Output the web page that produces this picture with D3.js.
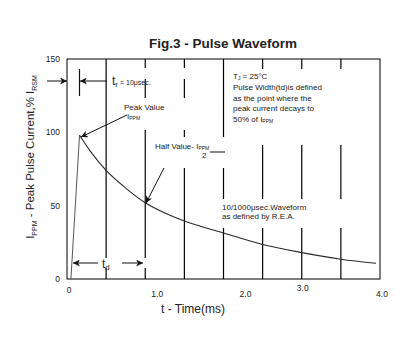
<!DOCTYPE html>
<html>
<head>
<meta charset="utf-8">
<script src="https://cdn.jsdelivr.net/npm/d3@7"></script>
<style>
  body { margin: 0; background: #fff; }
  text { font-family: "Liberation Sans", Arial, sans-serif; fill: #222; }
</style>
</head>
<body>
<svg></svg>
<script>
const w = 408
const h = 354

// pulse waveform (t in ms, % of peak)
const riseTime = [0.05, 0.16]
const riseValue = [0, 98]
const decayTime = [0.16, 0.3, 0.5, 0.75, 1.0, 1.25, 1.5, 2.0, 2.5, 3.0, 3.5, 3.95]
const decayValue = [98, 87, 74, 62, 52, 45, 39.5, 31.4, 23.5, 18, 13.5, 10.7]

const gridTimes = [0.5, 1.0, 1.5, 2.0, 2.5, 3.0, 3.5]
const xTicks = [0, 1, 2, 3, 4]
const xTickLabels = ['0', '1.0', '2.0', '3.0', '4.0']
const yTicks = [0, 50, 100, 150]

const svg = d3.select('svg')
  .attr('width', w)
  .attr('height', h);

const margin = {top: 59, right: 28, bottom: 75, left: 67};
const innerWidth = w - margin.left - margin.right;
const innerHeight = h - margin.top - margin.bottom;

const x = d3.scaleLinear().domain([0, 4]).range([margin.left, margin.left + innerWidth]);
const y = d3.scaleLinear().domain([0, 150]).range([margin.top + innerHeight, margin.top]);

// arrowhead
svg.append('defs').append('marker')
  .attr('id', 'arr')
  .attr('viewBox', '0 0 10 10')
  .attr('refX', 10).attr('refY', 5)
  .attr('markerWidth', 8).attr('markerHeight', 7)
  .attr('markerUnits', 'userSpaceOnUse')
  .attr('orient', 'auto')
  .append('path').attr('d', 'M0,0 L10,5 L0,10 L3,5 Z').attr('fill', '#111');

// title
svg.append('text')
  .attr('x', 223).attr('y', 48)
  .attr('text-anchor', 'middle')
  .attr('font-size', 13.5).attr('font-weight', 'bold')
  .attr('fill', '#000')
  .text('Fig.3  - Pulse Waveform');

// vertical grid lines
svg.append('g').selectAll('line').data(gridTimes)
  .enter().append('line')
  .attr('x1', d => x(d)).attr('x2', d => x(d))
  .attr('y1', y(150)).attr('y2', y(0))
  .attr('stroke', '#000').attr('stroke-width', 1.2);

// white boxes where the grid lines break for the notes
const gaps = [
  [110, 68, 85, 11], [120, 98, 75, 32], [150, 137, 80, 31],
  [228, 69, 142, 76], [218, 199, 152, 29], [98, 258, 52, 10]
];
svg.append('g').selectAll('rect').data(gaps)
  .enter().append('rect')
  .attr('x', d => d[0]).attr('y', d => d[1])
  .attr('width', d => d[2]).attr('height', d => d[3])
  .attr('fill', '#fff');

// frame
svg.append('rect')
  .attr('x', x(0)).attr('y', y(150))
  .attr('width', x(4) - x(0)).attr('height', y(0) - y(150))
  .attr('fill', 'none').attr('stroke', '#000').attr('stroke-width', 1);

// y tick labels
svg.append('g').selectAll('text').data(yTicks)
  .enter().append('text')
  .attr('x', 60).attr('y', d => y(d) + 3)
  .attr('text-anchor', 'end')
  .attr('font-size', 8.5).attr('fill', '#444')
  .text(d => d);

// x tick labels (placed loosely, as in the original)
const xLabelShift = [[2, 14], [12, 18], [22, 18], [1, 12], [2, 18]];
svg.append('g').selectAll('text').data(xTicks)
  .enter().append('text')
  .attr('x', (d, i) => x(d) + xLabelShift[i][0])
  .attr('y', (d, i) => y(0) + xLabelShift[i][1])
  .attr('text-anchor', 'middle')
  .attr('font-size', 8.5).attr('fill', '#444')
  .text((d, i) => xTickLabels[i]);

// axis titles
svg.append('text')
  .attr('x', 193).attr('y', 313)
  .attr('text-anchor', 'middle')
  .attr('font-size', 12).attr('fill', '#111')
  .text('t - Time(ms)');

const yl = svg.append('text')
  .attr('transform', 'translate(34,157) rotate(-90)')
  .attr('text-anchor', 'middle')
  .attr('font-size', 11.5).attr('fill', '#111');
yl.append('tspan').text('I');
yl.append('tspan').attr('font-size', 7).attr('dy', 3).text('PPM');
yl.append('tspan').attr('dy', -3).text(' - Peak Pulse Current,% I');
yl.append('tspan').attr('font-size', 7).attr('dy', 3).text('RSM');

// waveform
const rise = riseTime.map((t, i) => ({t, v: riseValue[i]}));
const decay = decayTime.map((t, i) => ({t, v: decayValue[i]}));

svg.append('path').datum(rise)
  .attr('d', d3.line().x(d => x(d.t)).y(d => y(d.v)))
  .attr('fill', 'none').attr('stroke', '#555').attr('stroke-width', 1);

svg.append('path').datum(decay)
  .attr('d', d3.line().x(d => x(d.t)).y(d => y(d.v)).curve(d3.curveMonotoneX))
  .attr('fill', 'none').attr('stroke', '#2a2a2a').attr('stroke-width', 1.1);

// annotations
const arrow = (x1, y1, x2, y2) => svg.append('line')
  .attr('x1', x1).attr('y1', y1).attr('x2', x2).attr('y2', y2)
  .attr('stroke', '#111').attr('stroke-width', 1)
  .attr('marker-end', 'url(#arr)');

// rise time
arrow(47, 81, 67, 81);
arrow(107, 81, 80, 81);
svg.append('line').attr('x1', 79.5).attr('x2', 79.5).attr('y1', 69).attr('y2', 96)
  .attr('stroke', '#111').attr('stroke-width', 1.2);
const tr = svg.append('text').attr('x', 112).attr('y', 85).attr('font-size', 12).attr('fill', '#111');
tr.append('tspan').text('t');
tr.append('tspan').attr('font-size', 8).attr('dy', 2).text('r');
tr.append('tspan').attr('font-size', 7).attr('dy', -2).text(' = 10μsec.');

// peak value
svg.append('text').attr('x', 124).attr('y', 110).attr('font-size', 8).text('Peak Value');
const ip = svg.append('text').attr('x', 127).attr('y', 119).attr('font-size', 8);
ip.append('tspan').text('I');
ip.append('tspan').attr('font-size', 5).attr('dy', 1).text('PPM');
arrow(127, 115, 81, 137);

// half value
const hv = svg.append('text').attr('x', 155).attr('y', 149).attr('font-size', 8);
hv.append('tspan').text('Half Value-  I');
hv.append('tspan').attr('font-size', 5).attr('dy', 1).text('PPM');
svg.append('text').attr('x', 202).attr('y', 158).attr('font-size', 8).text('2');
svg.append('line').attr('x1', 210).attr('x2', 225).attr('y1', 152).attr('y2', 152)
  .attr('stroke', '#111').attr('stroke-width', 1);
arrow(164, 168, 146, 203);

// pulse width
arrow(98, 263, 73, 263);
arrow(122, 263, 143, 263);
const td = svg.append('text').attr('x', 102).attr('y', 268).attr('font-size', 12).attr('fill', '#111');
td.append('tspan').text('t');
td.append('tspan').attr('font-size', 8).attr('dy', 2).text('d');

// notes
const note = svg.append('text').attr('font-size', 8);
const tj = note.append('tspan').attr('x', 233).attr('y', 79);
tj.append('tspan').text('T');
tj.append('tspan').attr('font-size', 5).attr('dy', 1).text('J');
tj.append('tspan').attr('dy', -1).text(' = 25°C');
['Pulse Width(td)is defined', 'as the point  where the', 'peak  current decays to']
  .forEach((s, i) => note.append('tspan').attr('x', 233).attr('y', 90 + i * 10.7).text(s));
note.append('tspan').attr('x', 233).attr('y', 122).text('50% of I');
note.append('tspan').attr('font-size', 5).attr('dy', 1).text('PPM');

const wf = svg.append('text').attr('font-size', 8);
wf.append('tspan').attr('x', 222).attr('y', 210).text('10/1000μsec.Waveform');
wf.append('tspan').attr('x', 222).attr('y', 219).text('as defined by R.E.A.');
</script>
</body>
</html>
